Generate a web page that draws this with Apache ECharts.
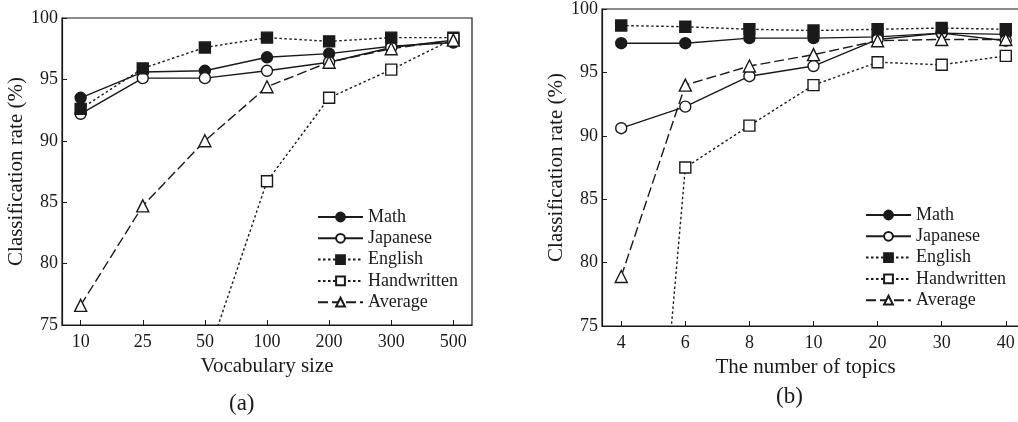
<!DOCTYPE html>
<html><head><meta charset="utf-8">
<script src="https://cdn.jsdelivr.net/npm/echarts@6/dist/echarts.min.js"></script>
<style>html,body{margin:0;padding:0;background:#fff}#c{width:1018px;height:422px}</style>
</head><body><div id="c"></div>
<script>
const vocabSizes = ['10','25','50','100','200','300','500'];
const topicCounts = ['4','6','8','10','20','30','40'];
const seriesNames = ['Math','Japanese','English','Handwritten','Average'];
const vocabMath = [93.5, 95.6, 95.7, 96.8, 97.1, 97.7, 98.0];
const vocabJapanese = [92.2, 95.1, 95.1, 95.7, 96.4, 97.6, 98.2];
const vocabEnglish = [92.6, 95.9, 97.6, 98.4, 98.1, 98.4, 98.4];
const vocabHandwritten = [null, null, 71.8, 86.7, 93.5, 95.8, 98.3];
const vocabAverage = [76.6, 84.7, 90.0, 94.4, 96.4, 97.5, 98.2];
const topicMath = [97.3, 97.3, 97.7, 97.7, 97.8, 98.1, 98.0];
const topicJapanese = [90.6, 92.3, 94.7, 95.5, 97.6, 98.1, 97.5];
const topicEnglish = [98.7, 98.6, 98.4, 98.3, 98.4, 98.5, 98.4];
const topicHandwritten = [30.0, 87.5, 90.8, 94.0, 95.8, 95.6, 96.3];
const topicAverage = [78.9, 94.0, 95.5, 96.4, 97.5, 97.6, 97.6];

const FONT = '"Liberation Serif", "DejaVu Serif", serif';
const INK = '#1a1a1a';
const styles = {
  Math:        {symbol:'circle',   size:11, fill:INK,    type:'solid'},
  Japanese:    {symbol:'circle',   size:11, fill:'#fff', type:'solid'},
  English:     {symbol:'rect',     size:11, fill:INK,    type:[2.5,2.5]},
  Handwritten: {symbol:'rect',     size:11, fill:'#fff', type:[2.5,2.5]},
  Average:     {symbol:'triangle', size:12, fill:'#fff', type:[10,4]}
};
const idx = [0,1,2,3,4,5,6];
function mk(name, vals, gi){
  const s = styles[name];
  return {
    name, type:'line', xAxisIndex:gi, yAxisIndex:gi,
    data: vals.map((v,i)=>[idx[i], v]),
    symbol:s.symbol, symbolSize:s.size, showSymbol:true,
    lineStyle:{color:INK, width:1.4, type:s.type},
    itemStyle:{color:s.fill, borderColor:INK, borderWidth:1.4},
    clip:true, animation:false
  };
}
const grids = [
  {left:62, top:18, width:410, height:307},
  {left:602, top:9, width:423, height:317}
];
function xAx(gi, labels, name, gap, padRight){
  return {
    type:'value', gridIndex:gi, min:-0.3, max:6.3,
    name, nameLocation:'middle', nameGap:gap,
    nameTextStyle:{fontFamily:FONT, fontSize:21, color:INK, padding:[0, padRight, 0, 0]},
    axisLine:{show:true, onZero:false, lineStyle:{color:INK, width:1.2}},
    axisTick:{show:true, inside:true, length:5, customValues:idx, lineStyle:{color:INK}},
    axisLabel:{customValues:idx, formatter:v=>labels[Math.round(v)], margin:8,
      fontFamily:FONT, fontSize:18, color:INK},
    splitLine:{show:false}
  };
}
function yAx(gi, gap){
  return {
    type:'value', gridIndex:gi, min:75, max:100, interval:5,
    name:'Classification rate (%)', nameLocation:'middle', nameGap:gap,
    nameTextStyle:{fontFamily:FONT, fontSize:21, color:INK},
    axisLine:{show:true, onZero:false, lineStyle:{color:INK, width:1.2}},
    axisTick:{show:true, inside:true, length:5, lineStyle:{color:INK}},
    axisLabel:{margin:4, fontFamily:FONT, fontSize:18, color:INK},
    splitLine:{show:false}
  };
}
const series = [];
[[vocabMath,vocabJapanese,vocabEnglish,vocabHandwritten,vocabAverage],
 [topicMath,topicJapanese,topicEnglish,topicHandwritten,topicAverage]].forEach((arrs,gi)=>{
  arrs.forEach((a,k)=>series.push(mk(seriesNames[k], a, gi)));
});
function lg(left, top){
  return {
    data:seriesNames, orient:'vertical', left, top, itemWidth:45, itemHeight:11, itemGap:3.3,
    itemTextGap:6, selectedMode:false, padding:0,
    textStyle:{fontFamily:FONT, fontSize:18, color:INK, padding:0}
  };
}
const chart = echarts.init(document.getElementById('c'), null, {renderer:'canvas'});
chart.setOption({
  backgroundColor:'#fff',
  animation:false,
  grid: grids.map(g=>Object.assign({show:true, borderColor:INK, borderWidth:1.2, backgroundColor:'transparent', containLabel:false, outerBoundsMode:'none'}, g)),
  xAxis:[xAx(0, vocabSizes, 'Vocabulary size', 16.5, 0), xAx(1, topicCounts, 'The number of topics', 21, 16)],
  yAxis:[yAx(0, 34), yAx(1, 34)],
  legend:[lg(317, 208), lg(865, 206)],
  graphic:[
    {type:'text', left:229, top:392, style:{text:'(a)', font:'23px '+FONT, fill:INK}},
    {type:'text', left:776, top:385, style:{text:'(b)', font:'23px '+FONT, fill:INK}}
  ],
  series
});
</script></body></html>
